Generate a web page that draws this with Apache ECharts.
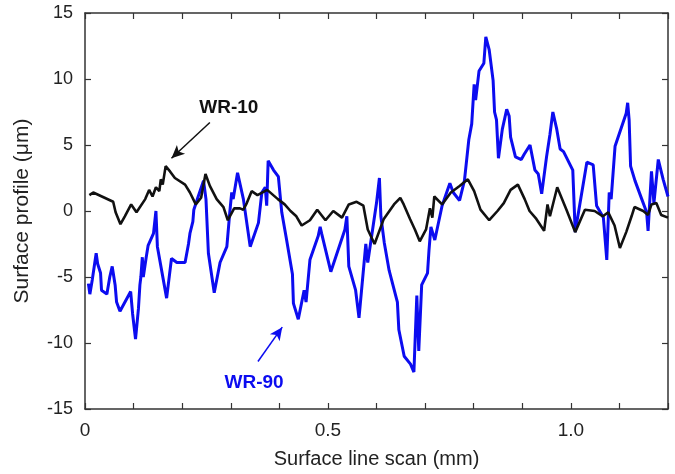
<!DOCTYPE html>
<html>
<head>
<meta charset="utf-8">
<script src="https://cdn.jsdelivr.net/npm/echarts@6/dist/echarts.min.js"></script>
<style>
html,body{margin:0;padding:0;background:#fff;}
#chart{width:675px;height:474px;}
</style>
</head>
<body>
<div id="chart"></div>
<script>
// WR-90 (blue) profile: [scan position mm, height um]
const wr90 = [[0.007,-5.5],[0.010,-6.3],[0.015,-5.2],[0.019,-4.2],[0.023,-3.2],[0.026,-4.0],[0.032,-4.7],[0.034,-6.0],[0.045,-6.3],[0.051,-5.0],[0.056,-4.2],[0.062,-5.6],[0.065,-6.9],[0.072,-7.6],[0.094,-6.1],[0.098,-7.8],[0.104,-9.7],[0.110,-7.4],[0.113,-5.6],[0.115,-5.0],[0.118,-3.5],[0.120,-5.0],[0.126,-3.5],[0.130,-2.6],[0.141,-1.7],[0.146,0.0],[0.149,-2.7],[0.168,-6.6],[0.178,-3.6],[0.189,-3.9],[0.206,-3.9],[0.213,-2.5],[0.216,-1.7],[0.222,-0.8],[0.224,0.1],[0.233,1.1],[0.244,2.3],[0.249,0.9],[0.254,-3.2],[0.266,-6.2],[0.278,-3.9],[0.292,-2.7],[0.298,-0.1],[0.302,1.4],[0.305,0.9],[0.314,2.9],[0.326,0.9],[0.340,-2.7],[0.357,-0.9],[0.364,1.4],[0.371,1.8],[0.374,0.4],[0.377,3.8],[0.388,3.1],[0.398,2.6],[0.405,-0.1],[0.415,-2.2],[0.427,-4.8],[0.429,-7.0],[0.439,-8.2],[0.451,-6.0],[0.455,-6.9],[0.463,-3.7],[0.480,-1.9],[0.484,-1.2],[0.487,-1.7],[0.506,-4.6],[0.535,-1.4],[0.539,-0.4],[0.543,-4.2],[0.557,-6.0],[0.564,-8.1],[0.578,-2.5],[0.582,-3.9],[0.600,0.6],[0.606,2.5],[0.609,-0.4],[0.616,-2.4],[0.626,-4.5],[0.643,-6.9],[0.646,-9.0],[0.657,-11.0],[0.670,-11.6],[0.677,-12.2],[0.683,-6.4],[0.687,-10.6],[0.693,-5.6],[0.705,-4.7],[0.708,-3.0],[0.712,-1.2],[0.720,-2.2],[0.735,0.4],[0.751,2.1],[0.758,1.4],[0.771,0.8],[0.781,2.3],[0.790,5.4],[0.796,6.6],[0.801,9.6],[0.804,8.4],[0.811,10.6],[0.821,11.2],[0.825,13.2],[0.832,12.2],[0.840,9.9],[0.843,7.5],[0.847,6.9],[0.851,4.0],[0.859,6.2],[0.868,7.7],[0.873,7.2],[0.876,5.6],[0.886,4.1],[0.898,3.9],[0.904,4.3],[0.916,5.0],[0.926,3.1],[0.933,2.8],[0.940,1.3],[0.950,4.1],[0.957,5.8],[0.963,7.5],[0.971,6.2],[0.978,4.7],[0.985,4.5],[1.004,3.1],[1.009,-1.6],[1.033,3.7],[1.046,3.5],[1.053,0.4],[1.067,-0.5],[1.074,-3.7],[1.079,1.4],[1.083,0.9],[1.091,4.9],[1.114,7.4],[1.117,8.2],[1.120,6.9],[1.123,3.4],[1.132,2.3],[1.146,0.9],[1.156,-0.1],[1.159,-1.5],[1.166,3.0],[1.171,0.6],[1.180,3.9],[1.190,2.4],[1.200,1.1]];

// WR-10 (black) profile
const wr10 = [[0.009,1.2],[0.017,1.4],[0.058,0.7],[0.063,-0.1],[0.073,-1.0],[0.082,-0.4],[0.095,0.5],[0.106,-0.1],[0.124,0.9],[0.132,1.6],[0.139,1.1],[0.146,1.8],[0.153,1.5],[0.156,2.4],[0.160,2.0],[0.166,3.4],[0.175,3.0],[0.185,2.5],[0.206,2.0],[0.216,1.4],[0.228,0.5],[0.239,1.0],[0.248,2.8],[0.257,1.9],[0.271,0.9],[0.285,0.3],[0.294,-0.7],[0.307,0.2],[0.319,0.2],[0.326,0.1],[0.333,0.6],[0.343,1.5],[0.355,1.2],[0.375,1.6],[0.397,0.9],[0.411,0.5],[0.423,0.0],[0.435,-0.4],[0.446,-1.1],[0.463,-0.7],[0.478,0.1],[0.495,-0.7],[0.511,0.0],[0.529,-0.5],[0.543,0.5],[0.559,0.7],[0.573,0.4],[0.582,-1.4],[0.596,-2.5],[0.615,-0.6],[0.636,0.5],[0.649,1.0],[0.656,0.5],[0.669,-0.6],[0.679,-1.4],[0.689,-2.3],[0.702,-1.4],[0.710,0.2],[0.715,-0.5],[0.719,1.1],[0.735,0.5],[0.753,1.4],[0.771,1.9],[0.788,2.4],[0.801,1.5],[0.814,0.1],[0.832,-0.7],[0.849,0.0],[0.862,0.6],[0.876,1.6],[0.891,2.0],[0.905,0.9],[0.915,0.0],[0.929,-0.6],[0.945,-1.5],[0.952,0.5],[0.957,-0.4],[0.972,1.8],[0.991,0.1],[1.009,-1.6],[1.029,0.1],[1.049,0.0],[1.066,-0.4],[1.077,-0.1],[1.090,-1.1],[1.101,-2.8],[1.114,-1.6],[1.125,-0.4],[1.131,0.3],[1.149,0.0],[1.159,-0.3],[1.166,0.5],[1.176,0.6],[1.186,-0.3],[1.200,-0.5]];

const xTickLabels = {'0':'0','0.5':'0.5','1':'1.0'};
const seriesNames = ['WR-10','WR-90'];
// annotation anchors in data units: [labelPos, arrowTail, arrowTip]
const wr10Note = [[0.296,7.8],[0.257,6.7],[0.178,4.0]];
const wr90Note = [[0.348,-13.0],[0.356,-11.4],[0.406,-8.8]];

const FONT = '"Liberation Sans", Arial, sans-serif';
const AX = '#333';
const BLUE = '#0c0cf0';

const chart = echarts.init(document.getElementById('chart'), null, {renderer:'canvas'});

function xFmt(v){
  const k = String(Math.round(v*10)/10);
  return xTickLabels[k] !== undefined ? xTickLabels[k] : '';
}

const noteSeries = (note, color, name) => ({
  type:'line', name:name+'-note', data:[], silent:true,
  markLine:{
    silent:true, animation:false,
    symbol:['none','arrow'], symbolSize:[9,13],
    lineStyle:{color:color, width:1.5, type:'solid'},
    label:{show:false},
    data:[[{coord:note[1]},{coord:note[2]}]]
  },
  markPoint:{
    silent:true, animation:false,
    symbol:'circle', symbolSize:0,
    label:{show:true, formatter:name, color:color, fontFamily:FONT, fontWeight:'bold', fontSize:19, position:'inside'},
    data:[{coord:note[0]}]
  }
});

chart.setOption({
  animation:false,
  backgroundColor:'#fff',
  grid:{left:85, right:7, top:13, bottom:64, containLabel:false},
  xAxis:[{
    type:'value', min:0, max:1.2, interval:0.1,
    name:'Surface line scan (mm)', nameLocation:'middle', nameGap:40,
    nameTextStyle:{fontFamily:FONT, fontSize:20, color:'#222'},
    axisLine:{show:true, onZero:false, lineStyle:{color:AX, width:1.5}},
    axisTick:{show:true, inside:true, length:6, lineStyle:{color:AX, width:1.2}},
    axisLabel:{formatter:xFmt, fontFamily:FONT, fontSize:19, color:'#222', margin:12, showMinLabel:true, showMaxLabel:true, hideOverlap:false},
    splitLine:{show:false}
  },{
    type:'value', min:0, max:1.2, interval:0.1, position:'top',
    axisLine:{show:true, onZero:false, lineStyle:{color:AX, width:1.5}},
    axisTick:{show:true, inside:true, length:6, lineStyle:{color:AX, width:1.2}},
    axisLabel:{show:false}, splitLine:{show:false}
  }],
  yAxis:[{
    type:'value', min:-15, max:15, interval:5,
    name:'Surface profile (\u03bcm)', nameLocation:'middle', nameGap:52,
    nameTextStyle:{fontFamily:FONT, fontSize:21, color:'#222'},
    axisLine:{show:true, onZero:false, lineStyle:{color:AX, width:1.5}},
    axisTick:{show:true, inside:true, length:6, lineStyle:{color:AX, width:1.2}},
    axisLabel:{fontFamily:FONT, fontSize:18, color:'#222', margin:12},
    splitLine:{show:false}
  },{
    type:'value', min:-15, max:15, interval:5, position:'right',
    axisLine:{show:true, onZero:false, lineStyle:{color:AX, width:1.5}},
    axisTick:{show:true, inside:true, length:6, lineStyle:{color:AX, width:1.2}},
    axisLabel:{show:false}, splitLine:{show:false}
  }],
  series:[
    {type:'line', name:seriesNames[1], data:wr90, showSymbol:false, symbol:'none', smooth:false,
     lineStyle:{color:BLUE, width:3}, z:3},
    {type:'line', name:seriesNames[0], data:wr10, showSymbol:false, symbol:'none', smooth:false,
     lineStyle:{color:'#111', width:2.6}, z:4},
    noteSeries(wr10Note, '#111', seriesNames[0]),
    noteSeries(wr90Note, BLUE, seriesNames[1])
  ]
});
</script>
</body>
</html>
